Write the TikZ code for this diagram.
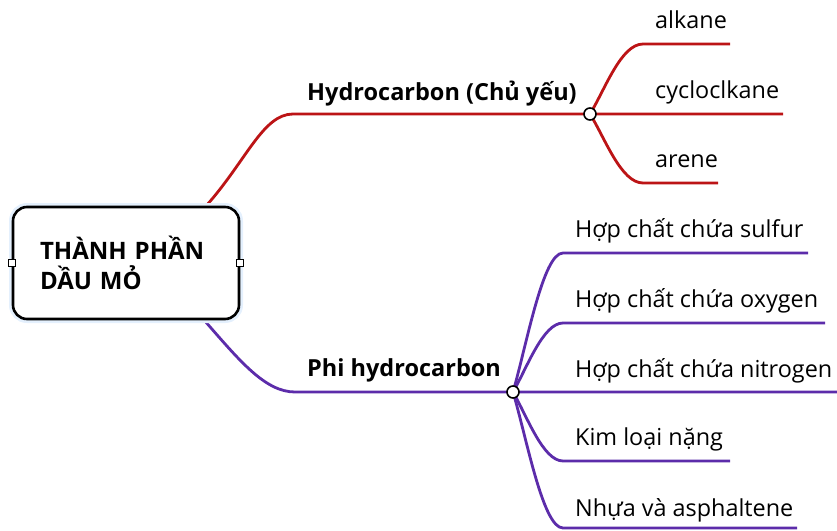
\documentclass[tikz,border=0pt]{standalone}
\usepackage{fontspec}
\setmainfont{Open Sans}
\usetikzlibrary{positioning, backgrounds, calc}
\definecolor{hred} {RGB}{188, 20, 22}
\definecolor{hpurp}{RGB}{ 92, 44,170}
\definecolor{hglow}{RGB}{228,240,253}
\tikzset{
  % Central topic box
  RootBox/.style={rectangle,rounded corners=14pt,draw=black,fill=white,
             line width=2.6pt,minimum width=226pt,minimum height=112pt,
             text width=172pt,inner xsep=27pt,align=left,
             font=\fontsize{24}{30}\selectfont\bfseries,
             preaction={draw=hglow,line width=8pt}},
  % Small selection handle
  Grip/.style={rectangle,draw=black,fill=white,line width=0.8pt,
             minimum size=7pt,inner sep=0pt},
  % Junction knot
  Knot/.style={circle,draw=black,fill=white,line width=1.6pt,
             minimum size=12pt,inner sep=0pt},
  % Labels
  MainLbl/.style={anchor=base west,inner sep=0pt,
             font=\fontsize{23.5}{28}\selectfont\bfseries},
  LeafLbl/.style={anchor=base west,inner sep=0pt,
             font=\fontsize{23.4}{28}\selectfont},
  % Branch lines
  RLine/.style={line width=2.8pt,color=hred},
  PLine/.style={line width=2.8pt,color=hpurp},
}
\begin{document}
\begin{tikzpicture}[x=1pt,y=-1pt]
  \useasboundingbox (0,0) rectangle (837,530);
  % Central topic with its two handles
  \node[RootBox] at (126,263) (root) {THÀNH PHẦN\\DẦU MỎ};
  \node[Grip] at (root.west) (gl) {};
  \node[Grip] at (root.east) (gr) {};
  % Junction knots
  \node[Knot] at (590,114) (hc) {};
  \node[Knot] at (513,392) (pc) {};
  % Main branch labels
  \node[MainLbl] at (307,100) (hlbl) {Hydrocarbon (Chủ yếu)};
  \node[MainLbl] at (307,376) (plbl) {Phi hydrocarbon};
  \coordinate (hbend) at (293,114);
  \coordinate (pbend) at (295,392);
  % Leaf labels and line ends
  \foreach \nm/\y/\xe/\ly/\txt in {alk/44/730/28/alkane,
                                  cyc/114/783/98/cycloclkane,
                                  are/183/718/167/arene}{
    \coordinate (\nm b) at (643,\y);
    \coordinate (\nm e) at (\xe,\y);
    \node[LeafLbl] at (655,\ly) (\nm) {\txt};
  }
  \foreach \nm/\y/\xe/\ly/\txt in {sul/253/808/237/Hợp chất chứa sulfur,
                                  oxy/323/825/307/Hợp chất chứa oxygen,
                                  nit/392/837/377/Hợp chất chứa nitrogen,
                                  kim/461/730/445/Kim loại nặng,
                                  nhu/528/797/516/Nhựa và asphaltene}{
    \coordinate (\nm b) at (563,\y);
    \coordinate (\nm e) at (\xe,\y);
    \node[LeafLbl] at (575,\ly) (\nm) {\txt};
  }
  % Lines behind the boxes and knots
  \begin{scope}[on background layer]
    \draw[RLine] ($(root.north east)+(-34,0)$)
          .. controls +(40,-45) and +(-30,0) .. (hbend) -- (cyce);
    \draw[PLine] ($(root.south east)+(-36,0)$)
          .. controls +(35,40) and +(-30,0) .. (pbend) -- (nite);
    \foreach \nm/\y in {alk/44,are/183}
      \draw[RLine] (hc.center) .. controls +(15,{0.35*(\y-114)})
            and +(-22,0) .. (\nm b) -- (\nm e);
    \foreach \nm/\y in {sul/253,oxy/323,kim/461,nhu/528}
      \draw[PLine] (pc.center) .. controls +(14,{0.35*(\y-392)})
            and +(-20,0) .. (\nm b) -- (\nm e);
  \end{scope}
\end{tikzpicture}
\end{document}
